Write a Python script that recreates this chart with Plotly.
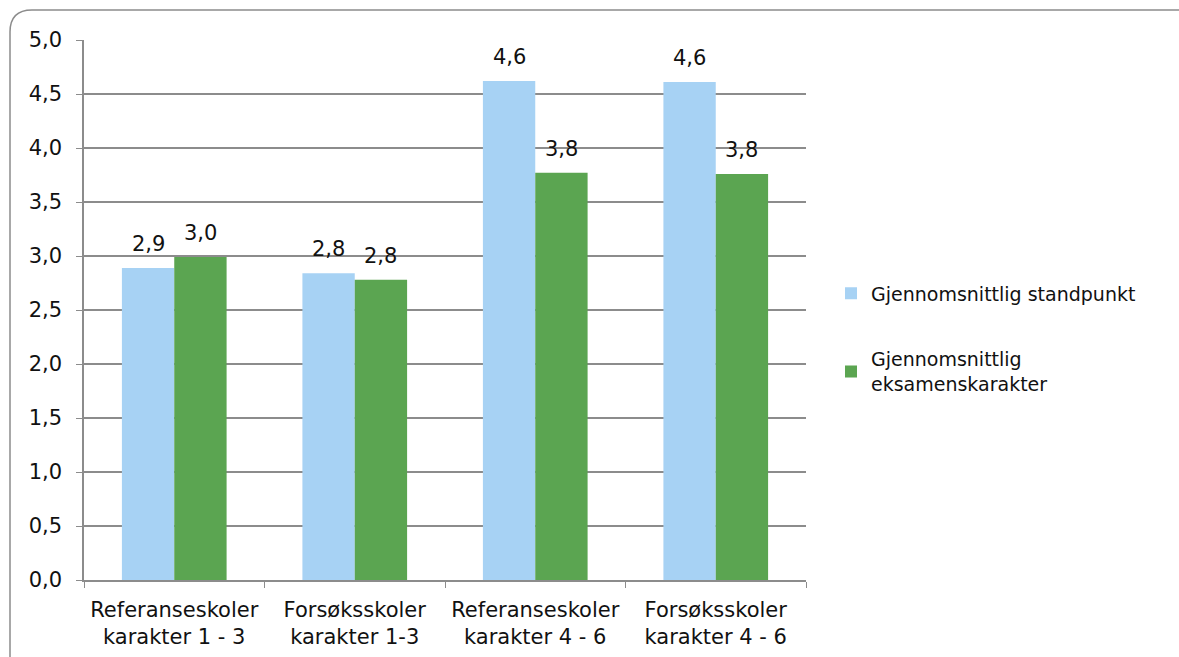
import plotly.graph_objects as go

categories = ["Referanseskoler<br>karakter 1 - 3", "Forsøksskoler<br>karakter 1-3",
              "Referanseskoler<br>karakter 4 - 6", "Forsøksskoler<br>karakter 4 - 6"]
standpunkt = [2.89, 2.84, 4.62, 4.61]
eksamen = [2.99, 2.78, 3.77, 3.76]
series_names = ["Gjennomsnittlig standpunkt", "Gjennomsnittlig<br>eksamenskarakter"]
y_ticks = [0, 0.5, 1.0, 1.5, 2.0, 2.5, 3.0, 3.5, 4.0, 4.5, 5.0]

W, H = 1179, 657
L, R, T, B = 84, 373, 40, 77
pw, ph = W - L - R, H - T - B

FONT = "DejaVu Sans"
FS = 21
LFS = 19
BARGAP = 0.42
fig = go.Figure()
fig.add_trace(go.Bar(x=categories, y=standpunkt, name=series_names[0],
                     marker=dict(color="#A7D2F4", line=dict(width=0)),
                     legendgroup="a"))
fig.add_trace(go.Bar(x=categories, y=eksamen, name=series_names[1],
                     marker=dict(color="#5BA551", line=dict(width=0)),
                     legendgroup="b"))

# value labels placed via the axes, shifted to each bar's centre
bar_w = pw / len(categories) * (1 - BARGAP) / 2
annotations = []
for vals, sign in ((standpunkt, -1), (eksamen, 1)):
    for c, v in zip(categories, vals):
        annotations.append(dict(x=c, y=v, xref="x", yref="y", text=f"{v:.1f}".replace(".", ","),
                                showarrow=False, xshift=sign * bar_w / 2, yshift=10,
                                yanchor="bottom", font=dict(size=FS, color="#111")))

def px(x):
    return (x - L) / pw

def py(y):
    return 1 - (y - T) / ph

x0, y0, x1, y1, r = 10, 10, 1200, 680, 22
path = (f"M {px(x0)},{py(y1)} L {px(x0)},{py(y0 + r)} "
        f"Q {px(x0)},{py(y0)} {px(x0 + r)},{py(y0)} L {px(x1)},{py(y0)}")

fig.update_layout(
    width=W, height=H,
    margin=dict(l=L, r=R, t=T, b=B),
    paper_bgcolor="white", plot_bgcolor="white",
    font=dict(family=FONT, size=FS, color="#111"),
    separators=", ",
    barmode="group", bargap=BARGAP, bargroupgap=0,
    showlegend=True,
    legend=dict(x=px(831), y=py(339), xanchor="left", yanchor="middle",
                font=dict(size=LFS), traceorder="grouped", tracegroupgap=38,
                itemwidth=30, bgcolor="rgba(0,0,0,0)"),
    annotations=annotations,
    shapes=[dict(type="path", xref="paper", yref="paper", path=path,
                 line=dict(color="#8C8C8C", width=1.5))],
    xaxis=dict(showline=True, linecolor="#8C8C8C", linewidth=1.5,
               ticks="outside", ticklen=6, tickcolor="#8C8C8C",
               tickson="boundaries", showgrid=False, ticklabelstandoff=10,
               automargin=False),
    yaxis=dict(range=[0, 5], tickvals=y_ticks, tickformat=".1f",
               showline=True, linecolor="#8C8C8C", linewidth=1.5,
               ticks="outside", ticklen=6, tickcolor="#8C8C8C",
               showgrid=True, gridcolor="#8C8C8C", gridwidth=1.5,
               zeroline=False, ticklabelstandoff=10, automargin=False),
)
fig.write_html("out.html", config={"displayModeBar": False},
               post_script="document.body.style.margin='0';document.body.style.padding='0';")
